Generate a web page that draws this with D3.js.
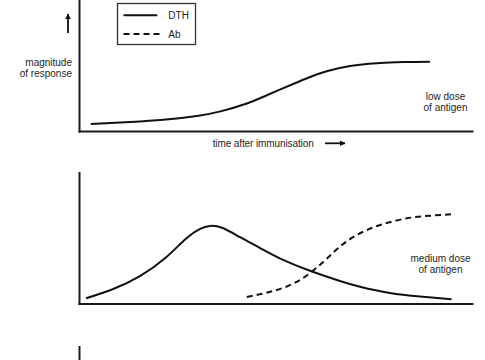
<!DOCTYPE html>
<html><head><meta charset="utf-8">
<script src="https://cdn.jsdelivr.net/npm/d3@7/dist/d3.min.js"></script>
<style>
body{margin:0;background:#fff}
svg{display:block}
text{font-family:"Liberation Sans",Arial,sans-serif;fill:#1e1e1e;font-size:10px}
</style>
</head><body>
<script>
// ---- data (arbitrary units: time 0-100, magnitude 0-100) ----
const seriesNames = ["DTH", "Ab"];
const lowDoseTime = [3, 13, 21.5, 30, 36, 42.7, 47.8, 54.5, 58.8, 63, 69, 75.7, 82.5, 89.3];
const lowDoseDTH  = [5.3, 6.8, 8.5, 11.5, 15.0, 21.0, 27.3, 35.9, 41.2, 45.6, 49.6, 51.7, 52.6, 52.9];
const medDoseDTHTime = [1.8, 8.7, 15.5, 22.1, 27.2, 30.8, 33.3, 36.4, 41, 46.1, 51.1, 58.8, 66.4, 71.5, 79.1, 86.8, 94.8];
const medDoseDTH     = [4.0, 11.1, 20.9, 35.1, 49.5, 57.0, 59.2, 57.8, 50.6, 42.3, 34.5, 25.0, 17.2, 12.8, 8.0, 5.3, 3.3];
const medDoseAbTime  = [42.7, 49.4, 56.2, 62.2, 66.4, 70.7, 76.6, 83.4, 89.3, 94.8];
const medDoseAb      = [5.0, 9.5, 17.9, 31.9, 43.4, 52.3, 59.9, 65.0, 67.0, 68.1];
const panelLabels = [["low dose", "of antigen"], ["medium dose", "of antigen"], []];
const yAxisLabel = ["magnitude", "of response"];
const xAxisLabel = "time after immunisation";

// ---- layout ----
const W = 485, H = 360;
const svg = d3.select("body").append("svg").attr("width", W).attr("height", H);
const defs = svg.append("defs");
defs.append("marker").attr("id", "ah").attr("viewBox", "0 0 10 10")
  .attr("refX", 9).attr("refY", 5).attr("markerWidth", 3.2).attr("markerHeight", 3.2)
  .attr("markerUnits", "strokeWidth").attr("orient", "auto")
  .append("path").attr("d", "M0,0L10,5L0,10Z").attr("fill", "#111");

const x = d3.scaleLinear().domain([0, 100]).range([79, 472]);
const panelTops = [0, 172.5, 346.5];
const ph = 131;

const panels = [
  { series: [{ name: "DTH", t: lowDoseTime, v: lowDoseDTH }], labels: panelLabels[0], lx: 445.5, ly: 100 },
  { series: [{ name: "DTH", t: medDoseDTHTime, v: medDoseDTH }, { name: "Ab", t: medDoseAbTime, v: medDoseAb }], labels: panelLabels[1], lx: 440.5, ly: 261.5 - 172.5 },
  { series: [], labels: panelLabels[2], lx: 440, ly: 90 }
];

panels.forEach((p, i) => {
  const g = svg.append("g").attr("transform", `translate(0,${panelTops[i]})`);
  const y = d3.scaleLinear().domain([0, 100]).range([ph, 0]);
  const line = d3.line().x(d => x(d[0])).y(d => y(d[1])).curve(d3.curveNatural);
  p.series.forEach(s => {
    g.append("path").datum(d3.zip(s.t, s.v)).attr("d", line)
      .attr("fill", "none").attr("stroke", "#111").attr("stroke-width", 2)
      .attr("stroke-dasharray", s.name === "Ab" ? "6,4" : null);
  });
  const ya = g.append("g").attr("transform", `translate(${x(0)},0)`)
    .call(d3.axisLeft(y).ticks(0).tickSizeOuter(0));
  ya.select(".domain").attr("stroke", "#1a1a1a").attr("stroke-width", 2).attr("stroke-linecap", "square");
  if (i < 2) {
    const xa = g.append("g").attr("transform", `translate(0,${ph})`)
      .call(d3.axisBottom(x).ticks(0).tickSizeOuter(0));
    xa.select(".domain").attr("stroke", "#1a1a1a").attr("stroke-width", 2).attr("stroke-linecap", "square");
  }
  p.labels.forEach((t, k) => {
    g.append("text").attr("x", p.lx).attr("y", p.ly + k * 11).attr("text-anchor", "middle").text(t);
  });
});

// y-axis label and arrow
yAxisLabel.forEach((t, k) => {
  svg.append("text").attr("x", 72).attr("y", 65.5 + k * 11.5).attr("text-anchor", "end").text(t);
});
svg.append("line").attr("x1", 68).attr("y1", 33).attr("x2", 68).attr("y2", 14)
  .attr("stroke", "#111").attr("stroke-width", 1.8).attr("marker-end", "url(#ah)");

// x-axis label and arrow
svg.append("text").attr("x", 212.7).attr("y", 147).attr("textLength", 101).text(xAxisLabel);
svg.append("line").attr("x1", 325).attr("y1", 143.3).attr("x2", 345).attr("y2", 143.3)
  .attr("stroke", "#111").attr("stroke-width", 1.8).attr("marker-end", "url(#ah)");

// legend
const lg = svg.append("g");
lg.append("rect").attr("x", 117.5).attr("y", 3.5).attr("width", 78).attr("height", 41)
  .attr("fill", "#fff").attr("stroke", "#333").attr("stroke-width", 1.3);
seriesNames.forEach((n, k) => {
  const yy = 15.3 + k * 18.7;
  lg.append("line").attr("x1", 123.5).attr("x2", n === "Ab" ? 160 : 157.3).attr("y1", yy).attr("y2", yy)
    .attr("stroke", "#111").attr("stroke-width", 2).attr("stroke-dasharray", n === "Ab" ? "6,4" : null);
  lg.append("text").attr("x", 168.3).attr("y", yy + 3.6).text(n);
});
</script>
</body></html>
